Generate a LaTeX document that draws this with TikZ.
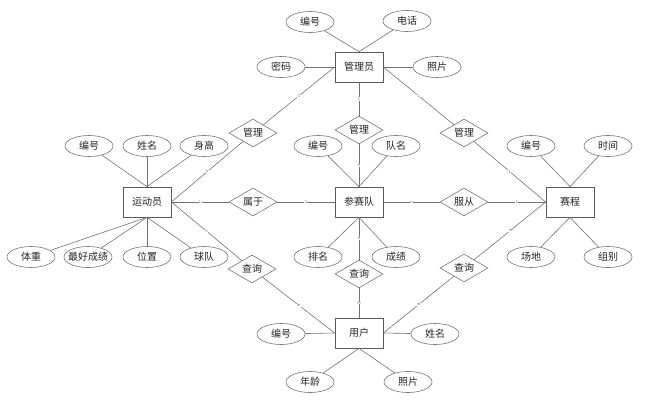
\documentclass[tikz,border=0pt]{standalone}
\usepackage{fontspec}
\setmainfont{Noto Sans CJK SC}
\newfontfamily\cardfont{Liberation Sans}
\usetikzlibrary{shapes.geometric}
\begin{document}
\begin{tikzpicture}[x=1pt,y=-1pt,
 ent/.style={draw=black!65, line width=0.7pt, minimum width=48pt, minimum height=30pt, inner sep=0pt, font=\fontsize{10}{12}\selectfont, text=black!85},
 attr/.style={ellipse, draw=black!55, line width=0.6pt, minimum width=48pt, minimum height=21pt, inner sep=0pt, font=\fontsize{10}{12}\selectfont, text=black!85},
 rel/.style={diamond, draw=black!55, line width=0.6pt, minimum width=48pt, minimum height=28pt, inner sep=0pt, aspect=1.7, font=\fontsize{10}{12}\selectfont, text=black!85},
 ln/.style={draw=black!55, line width=0.6pt},
 card/.style={font=\cardfont\fontsize{4}{4}\selectfont, text=black!60, inner sep=0.4pt, fill=white}
]
\fill[white] (0,0) rectangle (670,405);
% entities
\node[ent] (gly) at (359,67) {管理员};
\node[ent] (ydy) at (147,202) {运动员};
\node[ent] (csd) at (359,202) {参赛队};
\node[ent] (sc) at (570,202) {赛程};
\node[ent] (yh) at (359,333) {用户};
% attributes of 管理员
\node[attr] (g1) at (310,22) {编号};
\node[attr] (g2) at (407,21) {电话};
\node[attr] (g3) at (281,67) {密码};
\node[attr] (g4) at (437,67) {照片};
% attributes of 运动员
\node[attr] (y1) at (89,146) {编号};
\node[attr] (y2) at (147,146) {姓名};
\node[attr] (y3) at (204,146) {身高};
\node[attr] (y4) at (31,257) {体重};
\node[attr] (y5) at (88,257) {\makebox[0pt]{最好成绩}};
\node[attr] (y6) at (147,257) {位置};
\node[attr] (y7) at (204,257) {球队};
% attributes of 参赛队
\node[attr] (c1) at (318,146) {编号};
\node[attr] (c2) at (396,146) {队名};
\node[attr] (c3) at (318,257) {排名};
\node[attr] (c4) at (396,257) {成绩};
% attributes of 赛程
\node[attr] (s1) at (531,146) {编号};
\node[attr] (s2) at (608,146) {时间};
\node[attr] (s3) at (531,257) {场地};
\node[attr] (s4) at (608,257) {组别};
% attributes of 用户
\node[attr] (u1) at (281,334) {编号};
\node[attr] (u2) at (435,334) {姓名};
\node[attr] (u3) at (310,382) {年龄};
\node[attr] (u4) at (408,382) {照片};
% relationships
\node[rel] (r1) at (253,133) {管理};
\node[rel] (r2) at (359,130) {管理};
\node[rel] (r3) at (464,133) {管理};
\node[rel] (r4) at (253,202) {属于};
\node[rel] (r5) at (464,202) {服从};
\node[rel] (r6) at (252,269) {查询};
\node[rel] (r7) at (359,274) {查询};
\node[rel] (r8) at (464,268) {查询};
% attribute lines
\draw[ln] (g1) -- (gly.north);
\draw[ln] (g2) -- (gly.north);
\draw[ln] (g3) -- (gly.west);
\draw[ln] (g4) -- (gly.east);
\draw[ln] (y1) -- (ydy.north);
\draw[ln] (y2) -- (ydy.north);
\draw[ln] (y3) -- (ydy.north);
\draw[ln] (y4) -- (ydy.south);
\draw[ln] (y5) -- (ydy.south);
\draw[ln] (y6) -- (ydy.south);
\draw[ln] (y7) -- (ydy.south);
\draw[ln] (c1) -- (csd.north);
\draw[ln] (c2) -- (csd.north);
\draw[ln] (c3) -- (csd.south);
\draw[ln] (c4) -- (csd.south);
\draw[ln] (s1) -- (sc.north);
\draw[ln] (s2) -- (sc.north);
\draw[ln] (s3) -- (sc.south);
\draw[ln] (s4) -- (sc.south);
\draw[ln] (u1) -- (yh.west);
\draw[ln] (u2) -- (yh.east);
\draw[ln] (u3) -- (yh.south);
\draw[ln] (u4) -- (yh.south);
% relationship lines
\draw[ln] (gly.west) -- node[card]{1} (r1);
\draw[ln] (r1) -- node[card]{n} (ydy.east);
\draw[ln] (gly.south) -- node[card]{1} (r2);
\draw[ln] (r2) -- node[card]{n} (csd.north);
\draw[ln] (gly.east) -- node[card]{1} (r3);
\draw[ln] (r3) -- node[card]{1} (sc.west);
\draw[ln] (ydy.east) -- node[card]{1} (r4);
\draw[ln] (r4) -- node[card]{1} (csd.west);
\draw[ln] (csd.east) -- node[card]{n} (r5);
\draw[ln] (r5) -- node[card]{1} (sc.west);
\draw[ln] (ydy.east) -- node[card]{n} (r6);
\draw[ln] (r6) -- node[card]{m} (yh.west);
\draw[ln] (csd.south) -- node[card]{n} (r7);
\draw[ln] (r7) -- node[card]{m} (yh.north);
\draw[ln] (sc.west) -- node[card]{n} (r8);
\draw[ln] (r8) -- node[card]{m} (yh.east);
\end{tikzpicture}
\end{document}
